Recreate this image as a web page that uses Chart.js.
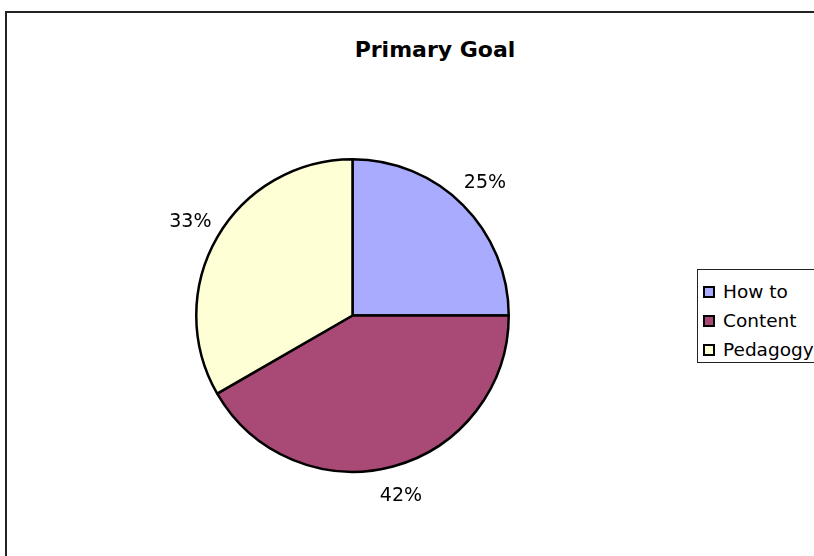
<!DOCTYPE html>
<html>
<head>
<meta charset="utf-8">
<title>Primary Goal</title>
<script src="https://cdn.jsdelivr.net/npm/chart.js@4/dist/chart.umd.min.js"></script>
<style>
    html, body { margin: 0; padding: 0; background: #fff; overflow: hidden; }
    #wrap { position: relative; width: 814px; height: 556px; overflow: hidden; font-family: "DejaVu Sans", Verdana, sans-serif; }
    #frame { position: absolute; left: 5px; top: 11px; width: 900px; height: 700px; border: 2px solid #222; }
    #title { position: absolute; left: 0; top: 37px; width: 870px; text-align: center; font-size: 22px; font-weight: bold; line-height: 26px; }
    #chart-box { position: absolute; left: 0; top: 0; width: 814px; height: 556px; }
    #legend { position: absolute; left: 697px; top: 269px; width: 130px; height: 92px; border: 1px solid #222; background: #fff; }
    #legend .item { position: absolute; left: 5px; font-size: 18.5px; line-height: 20px; white-space: nowrap; }
    #legend .sw { display: inline-block; width: 8px; height: 8px; border: 2px solid #000; margin-right: 8px; vertical-align: 0px; }
</style>
</head>
<body>
<div id="wrap">
    <div id="frame"></div>
    <div id="title">Primary Goal</div>
    <div id="chart-box"><canvas id="pie"></canvas></div>
    <div id="legend"></div>
</div>
<script>
const labels = ['How to', 'Content', 'Pedagogy'];
const counts = [3, 5, 4];
const colors = ['#A9ABFF', '#A94A76', '#FFFFD6'];

// legend (html, built from the arrays)
let legendTops = [12, 41, 70];
labels.forEach(function (name, i) {
    let el = document.createElement('div');
    el.className = 'item';
    el.style.top = legendTops[i] + 'px';
    el.innerHTML = '<span class="sw" style="background:' + colors[i] + '"></span>' + name;
    document.getElementById('legend').appendChild(el);
});

// percentage labels outside each slice
const pctLabels = {
    id: 'pctLabels',
    afterDatasetsDraw(chart) {
        const ctx = chart.ctx;
        const meta = chart.getDatasetMeta(0);
        const total = counts.reduce((a, b) => a + b, 0);
        ctx.save();
        ctx.font = '19px "DejaVu Sans"';
        ctx.fillStyle = '#000';
        ctx.textAlign = 'center';
        ctx.textBaseline = 'middle';
        meta.data.forEach(function (arc, i) {
            const p = arc.getProps(['x', 'y', 'startAngle', 'endAngle', 'outerRadius'], true);
            const mid = (p.startAngle + p.endAngle) / 2;
            const r = p.outerRadius + 31;
            const txt = Math.round(counts[i] / total * 100) + '%';
            ctx.fillText(txt, p.x + Math.cos(mid) * r, p.y + Math.sin(mid) * r);
        });
        ctx.restore();
    }
};

const ctx = document.getElementById('pie').getContext('2d');
const myChart = new Chart(ctx, {
    type: 'pie',
    data: {
        labels: labels,
        datasets: [{
            data: counts,
            backgroundColor: colors,
            borderColor: '#000',
            borderWidth: 2.5
        }]
    },
    options: {
        responsive: true,
        maintainAspectRatio: false,
        animation: false,
        layout: {
            padding: { left: 195, right: 304, top: 158, bottom: 83 }
        },
        plugins: {
            legend: false,
            tooltip: { enabled: false }
        }
    },
    plugins: [pctLabels]
});
</script>
</body>
</html>
